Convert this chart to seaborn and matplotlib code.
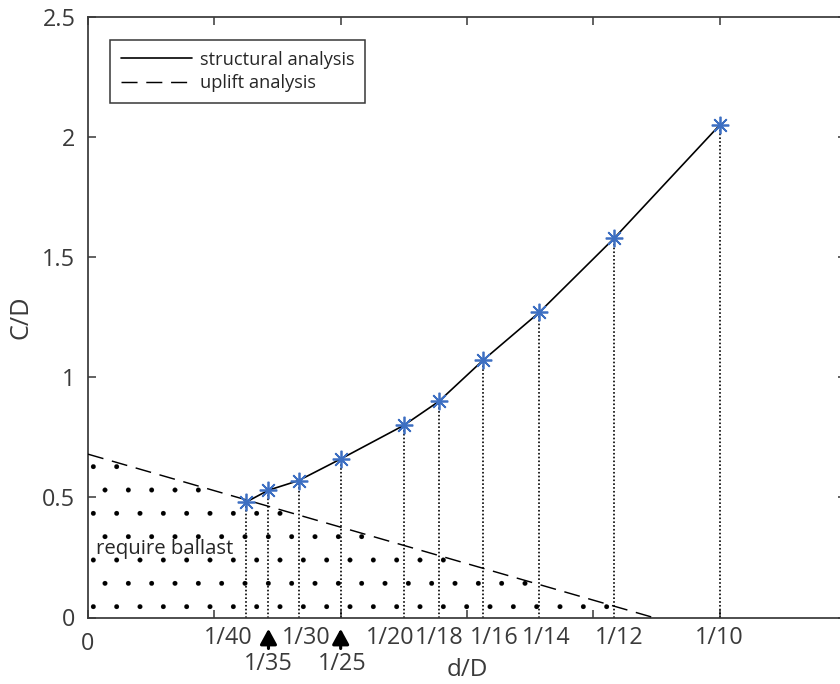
import seaborn as sns
import matplotlib.pyplot as plt
import pandas as pd
from matplotlib.lines import Line2D

# d/D ratios (as fractions 1/n) and C/D from the structural analysis
ratio_labels = ["1/40", "1/35", "1/30", "1/25", "1/20", "1/18", "1/16", "1/14", "1/12", "1/10"]
ratio_denoms = [40, 35, 30, 25, 20, 18, 16, 14, 12, 10]
cd_structural = [0.48, 0.53, 0.57, 0.66, 0.80, 0.90, 1.07, 1.27, 1.58, 2.05]

# uplift analysis line, end points
uplift_dD = [0.0, 0.0895]
uplift_CD = [0.68, 0.0]

# these two labels sit lower, under an arrow
arrow_labels = ["1/35", "1/25"]

yticks = [0, 0.5, 1, 1.5, 2, 2.5]
ytick_labels = ["0", "0.5", "1", "1.5", "2", "2.5"]

df = pd.DataFrame({"label": ratio_labels,
                   "dD": [1 / n for n in ratio_denoms],
                   "CD": cd_structural})
uplift = pd.DataFrame({"dD": uplift_dD, "CD": uplift_CD})

# label nudges (pixels) so the fractions don't collide
nudge = {"1/40": -18, "1/30": 8, "1/20": -14, "1/16": 11, "1/14": 7, "1/12": 5, "1/25": 2}

sns.set_theme(style="ticks")
plt.rcParams["font.family"] = ["Open Sans", "DejaVu Sans"]
plt.rcParams["hatch.linewidth"] = 0.1

axcol = "#3a3a3a"
blue = "#3d6fc2"
DPI = 140
tsize = 12

fig = plt.figure(figsize=(840 / DPI, 684 / DPI), dpi=DPI)
ax = fig.add_axes([88 / 840, 1 - 617.5 / 684, (846 - 88) / 840, (617.5 - 17) / 684])

# region that needs ballast (below the uplift line)
ax.fill_between(uplift["dD"], uplift["CD"], 0, facecolor="none", edgecolor="black",
                hatch=".", linewidth=0, zorder=1)

# drop lines from each point
ax.vlines(df["dD"], 0, df["CD"], colors="black", linestyles=(0, (1, 1.3)),
          linewidth=0.85, zorder=2)

sns.lineplot(data=uplift, x="dD", y="CD", color="black", linewidth=0.75,
             linestyle=(0, (11, 6)), ax=ax, legend=False, zorder=3)
sns.lineplot(data=df, x="dD", y="CD", color="black", linewidth=0.85,
             marker=(8, 2, 0), markersize=9, markeredgecolor=blue,
             markeredgewidth=0.9, ax=ax, legend=False, zorder=4)

ax.set_xlim(0, 0.12)
ax.set_ylim(0, 2.5)
ax.set_xticks([0, 0.02, 0.04, 0.06, 0.08, 0.1])
ax.set_xticklabels([])
ax.set_yticks(yticks)
ax.set_yticklabels(ytick_labels)
ax.tick_params(direction="in", length=4, width=0.8, top=True, right=True,
               color=axcol, labelcolor=axcol, labelsize=tsize, pad=6.5)
for s in ax.spines.values():
    s.set_color(axcol)
    s.set_linewidth(0.9)

# fraction labels on the x axis
ax.annotate("0", xy=(0, 0), xycoords=("data", "axes fraction"), xytext=(0, -26),
            textcoords="offset pixels", ha="center", va="center", fontsize=tsize, color=axcol)
for lab, x in zip(df["label"], df["dD"]):
    if lab in arrow_labels:
        ax.annotate(lab, xy=(x, 0), xycoords=("data", "axes fraction"),
                    xytext=(nudge.get(lab, 0), -47), textcoords="offset pixels",
                    ha="center", va="center", fontsize=tsize, color=axcol)
        ax.annotate("", xy=(x, 0), xycoords=("data", "axes fraction"),
                    xytext=(0, -31), textcoords="offset pixels",
                    arrowprops=dict(arrowstyle="-|>,head_length=0.55,head_width=0.3",
                                    color="black", lw=1.6, shrinkA=0, shrinkB=5.8))
    else:
        ax.annotate(lab, xy=(x, 0), xycoords=("data", "axes fraction"),
                    xytext=(nudge.get(lab, 0), -21), textcoords="offset pixels",
                    ha="center", va="center", fontsize=tsize, color=axcol)

ax.set_xlabel("d/D", fontsize=12.5, color=axcol)
ax.set_ylabel("C/D", fontsize=13, color=axcol)
ax.xaxis.set_label_coords(0.5, -0.068)
ax.yaxis.set_label_coords(-0.072, 0.5)

ax.text(0.0013, 0.286, "require ballast", ha="left", va="center", fontsize=10.5,
        color="#262626")

handles = [Line2D([], [], color="black", lw=0.85),
           Line2D([], [], color="black", lw=0.75, linestyle=(0, (11, 6)))]
leg = ax.legend(handles, ["structural analysis", "uplift analysis"], loc="upper left",
                bbox_to_anchor=(0.029, 0.962), borderaxespad=0, fancybox=False,
                edgecolor=axcol, framealpha=1, fontsize=9.4, handlelength=3.9,
                handletextpad=0.4, labelspacing=0.3, borderpad=0.6)
leg.get_frame().set_linewidth(0.8)

fig.savefig("out.png", dpi=DPI)
